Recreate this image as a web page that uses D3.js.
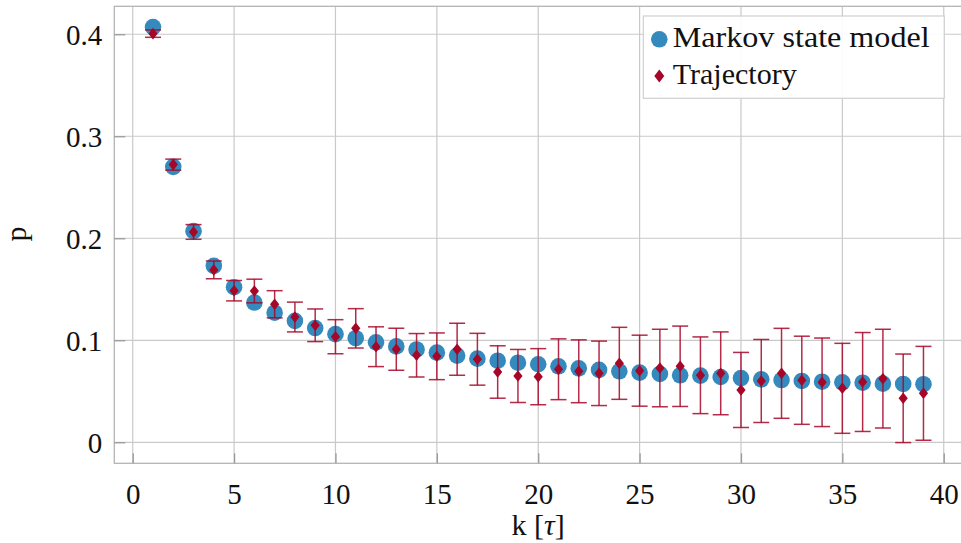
<!DOCTYPE html>
<html>
<head>
<meta charset="utf-8">
<script src="https://cdn.jsdelivr.net/npm/d3@7"></script>
<style>
  body { margin: 0; background: #fff; }
  svg text { font-family: "Liberation Serif", "DejaVu Serif", serif; fill: #111; }
</style>
</head>
<body>
<div class="canva"></div>
<script>
// lag k (in units of tau)
const lags = [1, 2, 3, 4, 5, 6, 7, 8, 9, 10, 11, 12, 13, 14, 15, 16, 17, 18, 19, 20,
              21, 22, 23, 24, 25, 26, 27, 28, 29, 30, 31, 32, 33, 34, 35, 36, 37, 38, 39];

// Markov state model prediction
const msmP = [0.407, 0.270, 0.207, 0.173, 0.152, 0.137, 0.127, 0.119, 0.112, 0.106,
              0.102, 0.098, 0.094, 0.091, 0.088, 0.085, 0.082, 0.080, 0.078, 0.0765,
              0.0745, 0.0725, 0.071, 0.0696, 0.0683, 0.067, 0.0657, 0.0653, 0.064, 0.063,
              0.0617, 0.061, 0.0601, 0.0594, 0.0588, 0.0584, 0.0575, 0.0572, 0.0569];

// counted from the trajectory, with its error
const trajP = [0.4006, 0.2722, 0.2062, 0.169, 0.1486, 0.1483, 0.1353, 0.1228, 0.1147, 0.1035,
               0.1117, 0.0937, 0.0912, 0.0853, 0.0843, 0.0912, 0.0814, 0.0689, 0.065, 0.0643,
               0.0716, 0.0696, 0.0676, 0.0774, 0.0702, 0.0728, 0.0745, 0.0657, 0.0676, 0.0513,
               0.0601, 0.0676, 0.0608, 0.0588, 0.0529, 0.0591, 0.0624, 0.0431, 0.048];
const trajErr = [0.0036, 0.0054, 0.0072, 0.0087, 0.010, 0.0116, 0.0133, 0.0146, 0.016, 0.0167,
                 0.0193, 0.0195, 0.0206, 0.0213, 0.0229, 0.0255, 0.0254, 0.0257, 0.026, 0.0275,
                 0.0298, 0.0308, 0.0316, 0.0353, 0.0348, 0.038, 0.0394, 0.0376, 0.0406, 0.0368,
                 0.0407, 0.0441, 0.0432, 0.0434, 0.0441, 0.0485, 0.0484, 0.0434, 0.046];

const xTicks = [0, 5, 10, 15, 20, 25, 30, 35, 40];
const yTicks = [0, 0.1, 0.2, 0.3, 0.4];
const seriesNames = ['Markov state model', 'Trajectory'];
const legendWidths = [257, 124];

const blue = '#348ABD';
const red = '#A60628';

const width = 961, height = 543;
const plot = { left: 114.3, right: 963, top: 6.3, bottom: 463.3 };

const svg = d3.select('.canva').append('svg')
              .attr('width', width)
              .attr('height', height);

const x = d3.scaleLinear().domain([-0.908, 40.95]).range([plot.left, plot.right]);
const y = d3.scaleLinear().domain([-0.0206, 0.4274]).range([plot.bottom, plot.top]);

const data = lags.map((k, i) => ({ k, msm: msmP[i], traj: trajP[i], err: trajErr[i] }));

// grid
const grid = svg.append('g').attr('stroke', '#c9c9c9').attr('stroke-width', 1.2);
grid.selectAll('.gx').data(xTicks).enter().append('line')
    .attr('x1', d => x(d)).attr('x2', d => x(d))
    .attr('y1', plot.top).attr('y2', plot.bottom);
grid.selectAll('.gy').data(yTicks).enter().append('line')
    .attr('x1', plot.left).attr('x2', plot.right)
    .attr('y1', d => y(d)).attr('y2', d => y(d));

// frame (right side runs off the canvas)
svg.append('rect')
   .attr('x', plot.left).attr('y', plot.top)
   .attr('width', plot.right - plot.left).attr('height', plot.bottom - plot.top)
   .attr('fill', 'none').attr('stroke', '#b4b4b4').attr('stroke-width', 1.3);

// axes with inward ticks
const xAxis = svg.append('g')
  .attr('transform', `translate(0,${plot.bottom})`)
  .call(d3.axisBottom(x).tickValues(xTicks).tickSize(-10).tickPadding(20).tickFormat(d3.format('d')));
const yAxis = svg.append('g')
  .attr('transform', `translate(${plot.left},0)`)
  .call(d3.axisLeft(y).tickValues(yTicks).tickSize(-11).tickPadding(12)
        .tickFormat(d => d === 0 ? '0' : d3.format('.1f')(d)));

[xAxis, yAxis].forEach(a => {
  a.select('.domain').remove();
  a.selectAll('.tick line').attr('stroke', '#9a9a9a').attr('stroke-width', 1.3);
  a.selectAll('.tick text').attr('font-size', 29).attr('fill', '#111')
   .style('font-family', '"Liberation Serif", serif');
});
xAxis.selectAll('.tick text').attr('dy', '0.71em');
yAxis.selectAll('.tick text').attr('dy', '0.34em');

// axis labels
const xl = svg.append('text')
   .attr('x', (x(0) + x(40)) / 2).attr('y', 535)
   .attr('text-anchor', 'middle').attr('font-size', 30);
xl.append('tspan').text('k [');
xl.append('tspan').attr('font-style', 'italic').text('τ');
xl.append('tspan').text(']');
svg.append('text')
   .attr('transform', 'translate(26,234) rotate(-90)')
   .attr('text-anchor', 'middle').attr('font-size', 30)
   .text('p');

// Markov state model points
svg.append('g').selectAll('circle').data(data).enter().append('circle')
   .attr('cx', d => x(d.k)).attr('cy', d => y(d.msm))
   .attr('r', 8.3).attr('fill', blue);

// trajectory error bars and diamonds
const diamond = (cx, cy, w, h) => `M${cx},${cy - h}L${cx + w},${cy}L${cx},${cy + h}L${cx - w},${cy}Z`;
const eb = svg.append('g').attr('stroke', red).attr('stroke-width', 1.5).attr('stroke-opacity', 0.85);
eb.selectAll('.bar').data(data).enter().append('line')
  .attr('x1', d => x(d.k)).attr('x2', d => x(d.k))
  .attr('y1', d => y(d.traj - d.err)).attr('y2', d => y(d.traj + d.err));
eb.selectAll('.capTop').data(data).enter().append('line')
  .attr('x1', d => x(d.k) - 8).attr('x2', d => x(d.k) + 8)
  .attr('y1', d => y(d.traj + d.err)).attr('y2', d => y(d.traj + d.err));
eb.selectAll('.capBot').data(data).enter().append('line')
  .attr('x1', d => x(d.k) - 8).attr('x2', d => x(d.k) + 8)
  .attr('y1', d => y(d.traj - d.err)).attr('y2', d => y(d.traj - d.err));
svg.append('g').selectAll('path').data(data).enter().append('path')
   .attr('d', d => diamond(x(d.k), y(d.traj), 4.6, 5.8))
   .attr('fill', red);

// legend
const legend = svg.append('g');
legend.append('rect')
      .attr('x', 643.3).attr('y', 16).attr('width', 301).attr('height', 82.3)
      .attr('fill', '#fff').attr('fill-opacity', 0.9)
      .attr('stroke', '#d0d0d0').attr('stroke-width', 1.2);
legend.append('circle').attr('cx', 659.3).attr('cy', 39.3).attr('r', 8.3).attr('fill', blue);
legend.append('path').attr('d', diamond(659.3, 76, 5, 6.5)).attr('fill', red);
legend.selectAll('.lt').data(seriesNames).enter().append('text')
      .attr('x', 672.7).attr('y', (d, i) => 47 + i * 36.5)
      .attr('font-size', 29)
      .attr('textLength', (d, i) => legendWidths[i])
      .attr('lengthAdjust', 'spacingAndGlyphs')
      .text(d => d);
</script>
</body>
</html>
